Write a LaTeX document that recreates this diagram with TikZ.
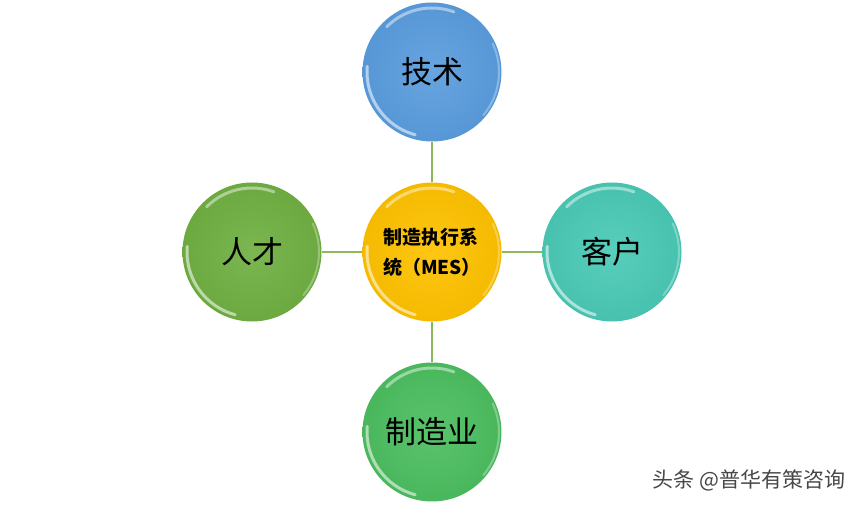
\documentclass[tikz,border=0pt]{standalone}
\usepackage{fontspec}
\setmainfont{Noto Sans CJK SC}
\usepackage{tikz}
\usetikzlibrary{positioning,shapes.geometric}
\definecolor{techblue}{RGB}{90,157,222}
\definecolor{talentgreen}{RGB}{112,176,66}
\definecolor{mesgold}{RGB}{255,194,0}
\definecolor{clientteal}{RGB}{74,202,182}
\definecolor{makegreen}{RGB}{76,190,96}
\definecolor{linkgreen}{RGB}{140,185,90}

\begin{document}
\begin{tikzpicture}[
    x=1pt, y=1pt,
    node distance=180pt,
    ball/.style={
		circle,
		minimum size=139pt,
		inner sep=0pt,
		text centered,
		font=\fontsize{31}{33}\selectfont,
		inner color=#1!92!white,
		outer color=#1!96!black,
		path picture={
			\draw [white, opacity=0.45, line width=3pt, line cap=round]
			  (path picture bounding box.center) ++(70:64pt) arc (70:135:64pt);
			\draw [white, opacity=0.55, line width=3pt, line cap=round]
			  (path picture bounding box.center) ++(175:65pt) arc (175:255:65pt);
			\draw [white, opacity=0.3, line width=2pt, line cap=round]
			  (path picture bounding box.center) ++(-40:67pt) arc (-40:25:67pt);
		}
	},
	link/.style={
		draw=linkgreen,
		line width=1.8pt
	}
  ]
  \useasboundingbox (0,0) rectangle (865,-505);

    % the middle ball first, the others round it
  \node [ball=mesgold, font=\bfseries\fontsize{19}{30}\selectfont, text width=98pt, align=left] (mes) at (432,-252)
 {%
  制造执行系\\
  统（MES）
 };

  \node [ball=techblue, above of=mes] (tech) {技术};
  \node [ball=talentgreen, left of=mes] (talent) {人才};
  \node [ball=clientteal, right of=mes] (client) {客户};
  \node [ball=makegreen, below of=mes] (make) {制造业};

 \draw [link] (mes) -- (tech);
 \draw [link] (mes) -- (talent);
 \draw [link] (mes) -- (client);
 \draw [link] (mes) -- (make);

  % watermark
  \node [anchor=east, text=white, font=\fontsize{21}{23}\selectfont] (markshadow) at (850,-481) {头条 @普华有策咨询};
  \node [anchor=east, text=black!72, font=\fontsize{21}{23}\selectfont] (mark) at (849,-480) {头条 @普华有策咨询};

\end{tikzpicture}
\end{document}
